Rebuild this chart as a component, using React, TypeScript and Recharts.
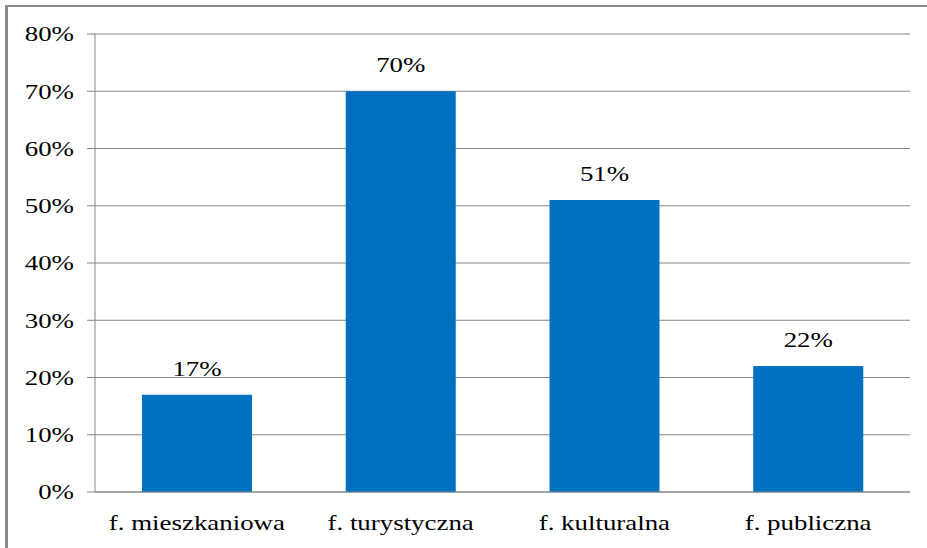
import React from 'react';
import { BarChart, Bar, XAxis, YAxis, CartesianGrid, LabelList } from 'recharts';

// Share of respondents per function (in %)
const categories = ['f. mieszkaniowa', 'f. turystyczna', 'f. kulturalna', 'f. publiczna'];
const shares = [17, 70, 51, 22];
const yTicks = [0, 10, 20, 30, 40, 50, 60, 70, 80];
const boundaryTicks = [0, 1, 2, 3, 4];

const data = categories.map((name, i) => ({ name, value: shares[i] }));

const GRID = '#868686';
const BAR = '#0070C0';
const FONT = '"Liberation Serif", "Times New Roman", serif';
const FONT_SIZE = 21;
const STRETCH = 1.28;

const YTick = (props: any) => {
  const { x, y, payload } = props;
  return (
    <g transform={`translate(${x},${y}) scale(${STRETCH},1)`}>
      <text x={0} y={0} dy="0.35em" textAnchor="end" fontFamily={FONT} fontSize={FONT_SIZE} fill="#000">
        {`${payload.value}%`}
      </text>
    </g>
  );
};

const XTick = (props: any) => {
  const { x, y, payload } = props;
  return (
    <g transform={`translate(${x},${y}) scale(${STRETCH},1)`}>
      <text x={0} y={0} dy={30} textAnchor="middle" fontFamily={FONT} fontSize={FONT_SIZE} fill="#000">
        {payload.value}
      </text>
    </g>
  );
};

const ValueLabel = (props: any) => {
  const { x, y, width, value } = props;
  const cx = Number(x) + Number(width) / 2;
  const by = Number(y) - 19;
  return (
    <g transform={`translate(${cx},${by}) scale(${STRETCH},1)`}>
      <text x={0} y={0} textAnchor="middle" fontFamily={FONT} fontSize={FONT_SIZE} fill="#000">
        {`${value}%`}
      </text>
    </g>
  );
};

export default function App() {
  return (
    <div style={{ position: 'fixed', left: 0, top: 0, width: 927, height: 548, background: '#fff', overflow: 'hidden' }}>
      <div
        style={{
          position: 'absolute',
          left: 5,
          top: 5,
          width: 1000,
          height: 1000,
          borderLeft: '3px solid #8a8a8a',
          borderTop: '2px solid #8a8a8a',
        }}
      />
      <div style={{ position: 'absolute', left: 0, top: 0 }}>
        <BarChart width={927} height={548} data={data} margin={{ top: 34, right: 17, left: 0, bottom: 0 }}>
          <CartesianGrid horizontal vertical={false} stroke={GRID} strokeWidth={1} />
          {/* category boundary tick marks */}
          <XAxis
            xAxisId="edges"
            type="number"
            domain={[0, 4]}
            ticks={boundaryTicks}
            height={0}
            axisLine={false}
            tickLine={{ stroke: GRID }}
            tickSize={8}
            tick={false}
          />
          <XAxis
            dataKey="name"
            xAxisId="cat"
            height={56}
            tickLine={false}
            axisLine={{ stroke: GRID }}
            tickSize={8}
            tickMargin={0}
            tick={<XTick />}
            interval={0}
          />
          <YAxis
            width={95}
            domain={[0, 80]}
            ticks={yTicks}
            interval={0}
            axisLine={{ stroke: GRID }}
            tickLine={{ stroke: GRID }}
            tickSize={8}
            tickMargin={13}
            tick={<YTick />}
          />
          <Bar dataKey="value" xAxisId="cat" fill={BAR} barSize={110} isAnimationActive={false}>
            <LabelList dataKey="value" content={<ValueLabel />} />
          </Bar>
        </BarChart>
      </div>
    </div>
  );
}
